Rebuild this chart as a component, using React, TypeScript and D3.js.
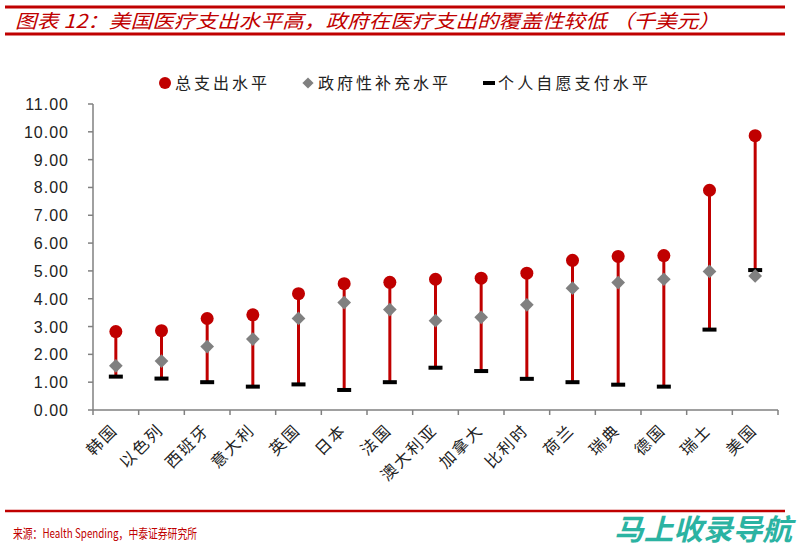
import React from "react";
import * as d3 from "d3";

const categories = ["韩国", "以色列", "西班牙", "意大利", "英国", "日本", "法国", "澳大利亚", "加拿大", "比利时", "荷兰", "瑞典", "德国", "瑞士", "美国"];
const totalSpend = [2.82, 2.85, 3.29, 3.42, 4.18, 4.54, 4.59, 4.70, 4.74, 4.92, 5.38, 5.52, 5.55, 7.90, 9.86];
const govSpend = [1.59, 1.76, 2.28, 2.55, 3.29, 3.86, 3.61, 3.21, 3.33, 3.78, 4.38, 4.58, 4.70, 4.98, 4.82];
const personalSpend = [1.20, 1.13, 1.00, 0.84, 0.92, 0.72, 1.00, 1.52, 1.40, 1.12, 1.00, 0.91, 0.84, 2.89, 5.03];
const yTicks = [0, 1, 2, 3, 4, 5, 6, 7, 8, 9, 10, 11];
const legendLabels = ["总支出水平", "政府性补充水平", "个人自愿支付水平"];
const titleText = "图表 12：美国医疗支出水平高，政府在医疗支出的覆盖性较低 （千美元）";
const sourceText = "来源：Health Spending，中泰证券研究所";

const RED = "#c00000";
const GREY = "#808080";
const CJK = "'Noto Sans CJK SC', 'Noto Sans', sans-serif";

export default function App() {
  const W = 800, H = 547;
  const left = 93, right = 778, top = 104, bottom = 410;
  const y = d3.scaleLinear().domain([0, 11]).range([bottom, top]);
  const x = d3.scaleBand().domain(categories).range([left, right]);
  const bw = x.bandwidth();
  const diamond = d3.symbol().type(d3.symbolDiamond2).size(120)() as string;
  const legendDiamond = d3.symbol().type(d3.symbolDiamond2).size(80)() as string;

  return (
    <svg width={W} height={H} style={{ position: "absolute", left: 0, top: 0, background: "#fff" }}>
      {/* title */}
      <line x1={5} x2={785} y1={7} y2={7} stroke={RED} strokeWidth={3} />
      <text x={15} y={28} fill={RED} fontFamily={CJK} fontSize={19} fontStyle="italic" textLength={705} lengthAdjust="spacingAndGlyphs">{titleText}</text>
      <line x1={5} x2={785} y1={34} y2={34} stroke={RED} strokeWidth={3} />

      {/* legend */}
      <circle cx={165} cy={83} r={6} fill={RED} />
      <text x={175} y={89} fontFamily={CJK} fontSize={16} fill="#222" textLength={92} lengthAdjust="spacing">{legendLabels[0]}</text>
      <path d={legendDiamond} transform="translate(308,83)" fill={GREY} />
      <text x={318} y={89} fontFamily={CJK} fontSize={16} fill="#222" textLength={130} lengthAdjust="spacing">{legendLabels[1]}</text>
      <rect x={483} y={81} width={12} height={4} fill="#000" />
      <text x={498} y={89} fontFamily={CJK} fontSize={16} fill="#222" textLength={150} lengthAdjust="spacing">{legendLabels[2]}</text>

      {/* y axis */}
      <line x1={left} x2={left} y1={top} y2={bottom} stroke={GREY} strokeWidth={1.5} />
      {yTicks.map((t) => (
        <g key={t}>
          <line x1={left - 5} x2={left} y1={y(t)} y2={y(t)} stroke={GREY} strokeWidth={1.5} />
          <text x={69} y={y(t) + 6} textAnchor="end" fontFamily="'Liberation Sans', Arial, sans-serif" fontSize={16} letterSpacing={1} fill="#222">{t.toFixed(2)}</text>
        </g>
      ))}

      {/* x axis */}
      <line x1={left} x2={right} y1={bottom} y2={bottom} stroke={GREY} strokeWidth={1.5} />
      {categories.concat([""]).map((c, i) => {
        const xx = left + i * bw;
        return <line key={"t" + i} x1={xx} x2={xx} y1={bottom} y2={bottom + 5} stroke={GREY} strokeWidth={1.5} />;
      })}
      {categories.map((c) => {
        const cx = (x(c) as number) + bw / 2;
        return (
          <text key={"l" + c} transform={`translate(${cx + 3},${bottom + 21}) rotate(-45)`} textAnchor="end" fontFamily={CJK} fontSize={16} letterSpacing={2} fill="#222">{c}</text>
        );
      })}

      {/* high-low lines and markers */}
      {categories.map((c, i) => {
        const cx = (x(c) as number) + bw / 2;
        const hi = Math.max(totalSpend[i], govSpend[i], personalSpend[i]);
        const lo = Math.min(totalSpend[i], govSpend[i], personalSpend[i]);
        return (
          <g key={"m" + c}>
            <line x1={cx} x2={cx} y1={y(hi)} y2={y(lo)} stroke={RED} strokeWidth={3} />
            <rect x={cx - 7} y={y(personalSpend[i]) - 2} width={14} height={4} fill="#000" />
            <path d={diamond} transform={`translate(${cx},${y(govSpend[i])})`} fill={GREY} />
            <circle cx={cx} cy={y(totalSpend[i])} r={6.5} fill={RED} />
          </g>
        );
      })}

      {/* footer */}
      <line x1={5} x2={785} y1={511} y2={511} stroke={RED} strokeWidth={2.5} />
      <text x={13} y={538} fill={RED} fontFamily={CJK} fontSize={13} textLength={184} lengthAdjust="spacingAndGlyphs">{sourceText}</text>
      <text x={614} y={540} fill="#2bb3a2" fontFamily={CJK} fontSize={29} fontWeight="bold" fontStyle="italic" textLength={178} lengthAdjust="spacingAndGlyphs">马上收录导航</text>
    </svg>
  );
}
